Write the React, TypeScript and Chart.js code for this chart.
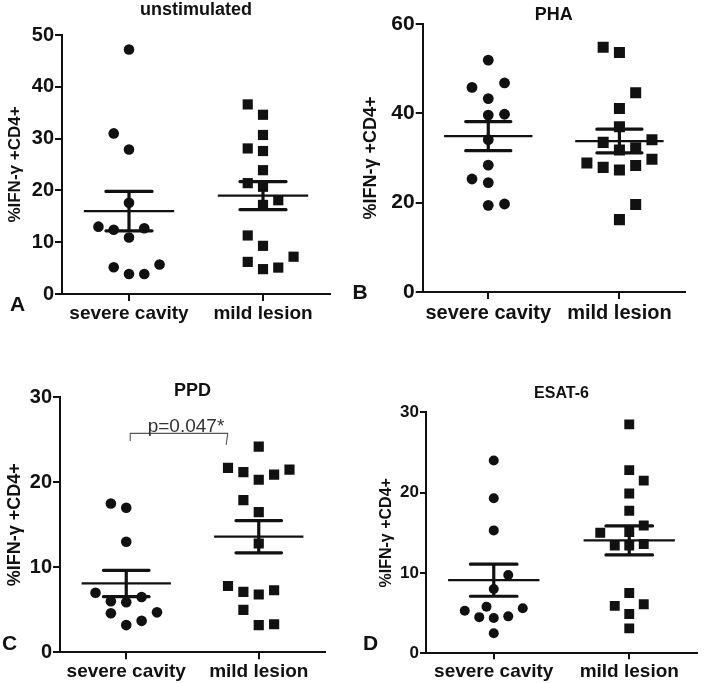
import React, { useEffect, useRef } from 'react';
import { Chart, registerables } from 'chart.js';

Chart.register(...registerables);

const FONT = "'Liberation Sans', Arial, Helvetica, sans-serif";
const INK = '#111111';

const categories = ['severe cavity', 'mild lesion'];
const yAxisTitle = '%IFN-γ +CD4+';

// ---- Panel A: unstimulated ----
const unstimSevere = [47.2, 31.0, 27.9, 17.6, 13.0, 12.4, 12.7, 10.9, 5.15, 5.7, 3.85, 3.85];
const unstimSevereCol = [0, -1, 0, 0, -2, -1, 1, 0, -1, 2, 0, 1];
const unstimMild = [36.6, 34.6, 30.7, 28.1, 27.6, 23.9, 21.4, 20.7, 18.1, 17.2, 11.3, 9.3, 7.2, 6.2, 4.8, 5.1];
const unstimMildCol = [-1, 0, 0, -1, 0, 0, -1, 0, 1, 0, -1, 0, 2, -1, 0, 1];
const unstimMean = [16.0, 19.0];
const unstimSem = [3.8, 2.7];
const unstimTicks = [0, 10, 20, 30, 40, 50];

// ---- Panel B: PHA ----
const phaSevere = [51.9, 45.8, 46.8, 43.3, 39.6, 39.8, 34.1, 28.4, 25.3, 24.5, 19.4, 19.7];
const phaSevereCol = [0, -1, 1, 0, 0, 1, 0, 0, -1, 0, 0, 1];
const phaMild = [54.8, 53.6, 44.6, 41.1, 37.0, 33.5, 31.8, 32.3, 34.1, 28.9, 27.9, 27.3, 28.3, 29.7, 19.6, 16.2];
const phaMildCol = [-1, 0, 1, 0, 0, -1, 0, 1, 2, -2, -1, 0, 1, 2, 1, 0];
const phaMean = [34.9, 33.8];
const phaSem = [3.25, 2.65];
const phaTicks = [0, 20, 40, 60];

// ---- Panel C: PPD ----
const ppdSevere = [17.5, 17.0, 13.0, 7.0, 6.0, 5.9, 6.5, 4.6, 4.7, 3.2, 3.7];
const ppdSevereCol = [-1, 0, 0, -2, -1, 0, 1, -1, 2, 0, 1];
const ppdMild = [24.2, 21.7, 21.2, 20.3, 20.9, 21.5, 17.9, 16.5, 12.8, 7.8, 7.1, 6.8, 7.3, 5.0, 3.2, 3.3];
const ppdMildCol = [0, -2, -1, 0, 1, 2, -1, 0, 0, -2, -1, 0, 1, -1, 0, 1];
const ppdMean = [8.1, 13.6];
const ppdSem = [1.55, 1.9];
const ppdTicks = [0, 10, 20, 30];
const ppdNoteText = 'p=0.047*';
const ppdBracketX = [1.03, 1.03, 1.766, 1.754];
const ppdBracketY = [24.86, 25.76, 25.76, 24.4];
const ppdNoteAt = [1.451, 25.9];

// ---- Panel D: ESAT-6 ----
const esatSevere = [24.0, 19.3, 15.3, 9.75, 8.0, 5.3, 5.8, 4.5, 4.4, 4.6, 5.6, 2.5];
const esatSevereCol = [0, 0, 0, 1, 0, -2, -0.5, -1, 0, 1, 2, 0];
const esatMild = [28.5, 22.8, 21.5, 19.9, 17.75, 15.9, 15.0, 15.1, 13.4, 13.6, 13.4, 7.5, 5.9, 6.1, 4.9, 3.1];
const esatMildCol = [0, 0, 1, 0, 0, 1, -2, 0, -1, 1, 0, 0, -1, 1, 0, 0];
const esatMean = [9.1, 14.05];
const esatSem = [2.0, 1.8];
const esatTicks = [0, 10, 20, 30];

type Note = { text: string; x: number; y: number; size: number; bx: number[]; by: number[] };
type Panel = {
  key: string; left: number; top: number; w: number; h: number;
  area: { l: number; r: number; t: number; b: number }; xAxisH: number;
  title: string; titleSize: number; titleY: number;
  letter: string; letterX: number; letterY: number;
  yTitleSize: number; yTitleCenter: number; tickSize: number; tickLen: number; labelSize: number; labelPad: number;
  step: number; circleR: number; rectR: number;
  severe: number[]; severeCol: number[]; mild: number[]; mildCol: number[];
  mean: number[]; sem: number[]; ticks: number[]; note?: Note;
};

const panels: Panel[] = [
  {
    key: 'A', left: 0, top: 0, w: 352, h: 340, area: { l: 62, r: 330, t: 35, b: 294 }, xAxisH: 40,
    title: 'unstimulated', titleSize: 18, titleY: 15, letter: 'A', letterX: 10, letterY: 311,
    yTitleSize: 17, yTitleCenter: 15, tickSize: 20, tickLen: 7, labelSize: 19, labelPad: 1.2, step: 0.114,
    circleR: 5.3, rectR: 7.2,
    severe: unstimSevere, severeCol: unstimSevereCol, mild: unstimMild, mildCol: unstimMildCol,
    mean: unstimMean, sem: unstimSem, ticks: unstimTicks,
  },
  {
    key: 'B', left: 352, top: 0, w: 352, h: 340, area: { l: 70.7, r: 333, t: 24, b: 292 }, xAxisH: 40,
    title: 'PHA', titleSize: 18, titleY: 20, letter: 'B', letterX: 0.5, letterY: 299,
    yTitleSize: 18, yTitleCenter: 19, tickSize: 21, tickLen: 7, labelSize: 20, labelPad: 2, step: 0.124,
    circleR: 5.4, rectR: 7.8,
    severe: phaSevere, severeCol: phaSevereCol, mild: phaMild, mildCol: phaMildCol,
    mean: phaMean, sem: phaSem, ticks: phaTicks,
  },
  {
    key: 'C', left: 0, top: 340, w: 352, h: 343, area: { l: 60, r: 325, t: 57.3, b: 312.3 }, xAxisH: 30.7,
    title: 'PPD', titleSize: 18, titleY: 56, letter: 'C', letterX: 2, letterY: 310,
    yTitleSize: 18, yTitleCenter: 15, tickSize: 20, tickLen: 7, labelSize: 19, labelPad: 1.4, step: 0.116,
    circleR: 5.3, rectR: 7.2,
    severe: ppdSevere, severeCol: ppdSevereCol, mild: ppdMild, mildCol: ppdMildCol,
    mean: ppdMean, sem: ppdSem, ticks: ppdTicks,
    note: { text: ppdNoteText, x: ppdNoteAt[0], y: ppdNoteAt[1], size: 19, bx: ppdBracketX, by: ppdBracketY },
  },
  {
    key: 'D', left: 352, top: 340, w: 352, h: 343, area: { l: 74, r: 350, t: 72.3, b: 313.3 }, xAxisH: 29.7,
    title: 'ESAT-6', titleSize: 16, titleY: 58.3, letter: 'D', letterX: 11, letterY: 310,
    yTitleSize: 16, yTitleCenter: 35, tickSize: 17, tickLen: 6, labelSize: 19, labelPad: 1.4, step: 0.107,
    circleR: 5.0, rectR: 7.0,
    severe: esatSevere, severeCol: esatSevereCol, mild: esatMild, mildCol: esatMildCol,
    mean: esatMean, sem: esatSem, ticks: esatTicks,
  },
];

const MEAN_HALF = 0.337;
const SEM_HALF = 0.172;

const decorPlugin = {
  id: 'decor',
  afterDraw(chart: any, _args: any, opts: any) {
    const { ctx, chartArea } = chart;
    ctx.save();
    ctx.fillStyle = INK;
    ctx.textBaseline = 'alphabetic';
    ctx.textAlign = 'center';
    ctx.font = `bold ${opts.titleSize}px ${FONT}`;
    ctx.fillText(opts.title, (chartArea.left + chartArea.right) / 2, opts.titleY);
    ctx.textAlign = 'left';
    ctx.font = `bold 21px ${FONT}`;
    ctx.fillText(opts.letter, opts.letterX, opts.letterY);
    if (opts.note) {
      const xs = chart.scales.x;
      const ys = chart.scales.y;
      ctx.fillStyle = '#333';
      ctx.textAlign = 'center';
      ctx.font = `${opts.note.size}px ${FONT}`;
      ctx.fillText(opts.note.text, xs.getPixelForValue(opts.note.x), ys.getPixelForValue(opts.note.y));
    }
    ctx.restore();
  },
};

function buildConfig(p: Panel): any {
  const groups = [
    { vals: p.severe, cols: p.severeCol, style: 'circle', r: p.circleR },
    { vals: p.mild, cols: p.mildCol, style: 'rect', r: p.rectR },
  ];
  const lineSets: any[] = [];
  groups.forEach((_g, i) => {
    const c = i + 1;
    const m = p.mean[i];
    const s = p.sem[i];
    lineSets.push({
      type: 'line', showLine: true, pointRadius: 0, borderColor: INK, borderWidth: 2.3,
      data: [{ x: c - MEAN_HALF, y: m }, { x: c + MEAN_HALF, y: m }],
    });
    lineSets.push({
      type: 'line', showLine: true, pointRadius: 0, borderColor: INK, borderWidth: 3.2,
      borderCapStyle: 'round', borderJoinStyle: 'round',
      data: [
        { x: c - SEM_HALF, y: m + s }, { x: c + SEM_HALF, y: m + s }, { x: c, y: m + s },
        { x: c, y: m - s }, { x: c - SEM_HALF, y: m - s }, { x: c + SEM_HALF, y: m - s },
      ],
    });
  });
  if (p.note) {
    lineSets.push({
      type: 'line', showLine: true, pointRadius: 0, borderColor: '#555', borderWidth: 1.1,
      data: p.note.bx.map((x, k) => ({ x, y: p.note!.by[k] })),
    });
  }
  const pointSets = groups.map((g, i) => ({
    type: 'scatter',
    data: g.vals.map((v, k) => ({ x: i + 1 + g.cols[k] * p.step, y: v })),
    pointStyle: g.style, pointRadius: g.r, pointHoverRadius: g.r,
    backgroundColor: INK, borderWidth: 0, showLine: false,
  }));
  const yMax = p.ticks[p.ticks.length - 1];
  return {
    type: 'scatter',
    data: { datasets: [...lineSets, ...pointSets] },
    plugins: [decorPlugin],
    options: {
      responsive: false, animation: false, devicePixelRatio: 1,
      layout: { padding: { left: 0, top: p.area.t, right: p.w - p.area.r, bottom: Math.max(0, p.h - p.area.b - p.xAxisH) } },
      plugins: {
        legend: { display: false }, tooltip: { enabled: false }, title: { display: false },
        decor: { title: p.title, titleSize: p.titleSize, titleY: p.titleY, letter: p.letter, letterX: p.letterX, letterY: p.letterY, note: p.note },
      },
      scales: {
        x: {
          type: 'linear', min: 0.5, max: 2.5,
          afterBuildTicks: (s: any) => { s.ticks = categories.map((_c, i) => ({ value: i + 1 })); },
          afterFit: (s: any) => { s.height = p.xAxisH; },
          ticks: {
            autoSkip: false, maxRotation: 0, padding: p.labelPad, color: INK,
            font: { family: FONT, size: p.labelSize, weight: 'bold' },
            callback: (v: number) => categories[Math.round(v) - 1] ?? '',
          },
          grid: { drawOnChartArea: false, drawTicks: true, tickLength: p.tickLen, tickWidth: 2, color: INK, lineWidth: 2 },
          border: { display: true, color: INK, width: 2 },
        },
        y: {
          type: 'linear', min: 0, max: yMax,
          afterBuildTicks: (s: any) => { s.ticks = p.ticks.map((v) => ({ value: v })); },
          afterFit: (s: any) => { s.width = p.area.l; },
          ticks: { padding: 1, color: INK, font: { family: FONT, size: p.tickSize, weight: 'bold' } },
          grid: { drawOnChartArea: false, drawTicks: true, tickLength: p.tickLen, tickWidth: 2, color: INK, lineWidth: 2 },
          border: { display: true, color: INK, width: 2 },
          title: {
            display: true, text: yAxisTitle, color: INK,
            font: { family: FONT, size: p.yTitleSize, weight: 'bold' },
            padding: { top: p.yTitleCenter - (p.yTitleSize * 1.2) / 2, bottom: 0 },
          },
        },
      },
    },
  };
}

function PanelChart({ p }: { p: Panel }) {
  const ref = useRef<HTMLCanvasElement | null>(null);
  useEffect(() => {
    if (!ref.current) return;
    const chart = new Chart(ref.current, buildConfig(p));
    return () => chart.destroy();
  }, [p]);
  return (
    <canvas
      ref={ref}
      width={p.w}
      height={p.h}
      style={{ position: 'absolute', left: p.left, top: p.top, width: p.w, height: p.h }}
    />
  );
}

export default function App() {
  return (
    <div style={{ position: 'absolute', left: 0, top: 0, width: 704, height: 683, background: '#ffffff' }}>
      {panels.map((p) => (
        <PanelChart key={p.key} p={p} />
      ))}
    </div>
  );
}
